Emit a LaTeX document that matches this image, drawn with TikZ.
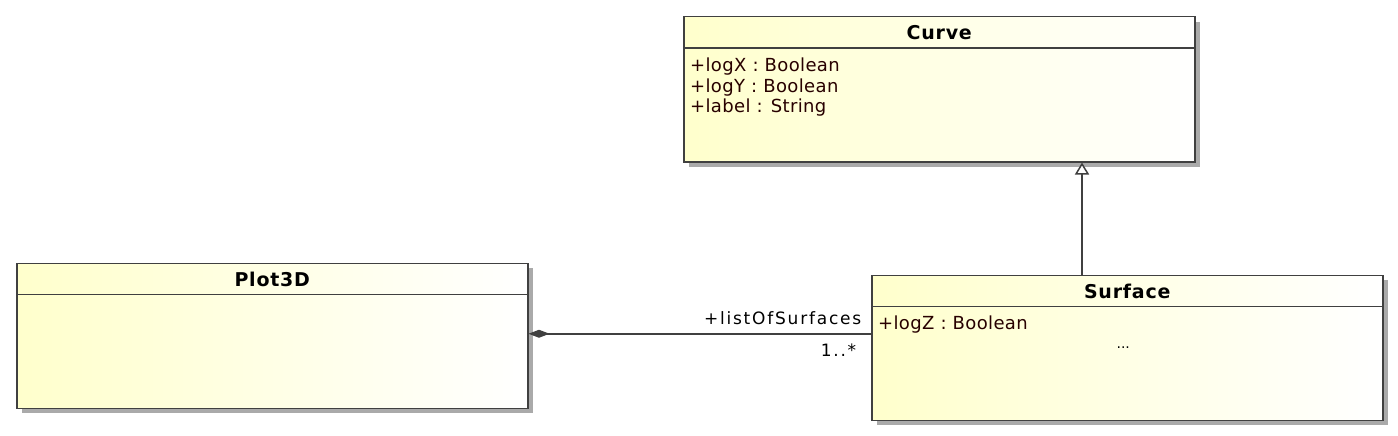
\documentclass[tikz,border=0pt]{standalone}
\usepackage{fontspec}
\setmainfont{DejaVu Sans}
\newfontfamily\attrfont[LetterSpace=2]{DejaVu Sans}
\newfontfamily\namefont[LetterSpace=4]{DejaVu Sans}
\newfontfamily\rolefont[LetterSpace=10.5]{DejaVu Sans}
\usetikzlibrary{positioning,shadows,arrows.meta}
\definecolor{classfill}{RGB}{255,255,204}
\definecolor{classline}{RGB}{64,64,64}
\definecolor{shadowgray}{RGB}{170,170,170}
\definecolor{attrcolor}{RGB}{40,0,0}

\begin{document}
\begin{tikzpicture}[x=1pt, y=-1pt,
    classnode/.style={rectangle, draw=classline, line width=1.5pt, left color=classfill, right color=white, minimum width=511pt, minimum height=145pt, inner sep=0pt, anchor=north west, drop shadow={shadow xshift=5pt, shadow yshift=-5pt, fill=shadowgray, opacity=1}},
    namenode/.style={inner sep=0pt, anchor=base, font=\namefont\bfseries\fontsize{19}{20}\selectfont},
    attrnode/.style={inner sep=0pt, text height=14pt, text depth=4pt, text=attrcolor, font=\attrfont\fontsize{18}{20}\selectfont},
    rolenode/.style={inner sep=0pt, font=\rolefont\fontsize{17}{20}\selectfont},
    umlline/.style={draw=classline, line width=1.5pt}]

        \fill[white] (0,0) rectangle (1398,436);

        % classes
        \node[classnode] (curve) at (683,16) {};
        \node[classnode] (plot) at (16,262.5) {};
        \node[classnode] (surface) at (871,274.5) {};

        \draw[umlline] ([yshift=-32pt]curve.north west) -- ([yshift=-32pt]curve.north east);
        \draw[umlline] ([yshift=-32pt]plot.north west) -- ([yshift=-32pt]plot.north east);
        \draw[umlline] ([yshift=-32pt]surface.north west) -- ([yshift=-32pt]surface.north east);

        \node[namenode] (curvename) at ([yshift=-24pt]curve.north) {Curve};
        \node[namenode] (plotname) at ([yshift=-24pt]plot.north) {Plot3D};
        \node[namenode] (surfacename) at ([yshift=-24pt]surface.north) {Surface};

        % attributes
        \node[attrnode, anchor=base west] (logx) at ([xshift=7pt, yshift=-55.7pt]curve.north west) {+logX : Boolean};
        \node[attrnode] (logy) [below right=2pt and 0pt of logx.south west] {+logY : Boolean};
        \node[attrnode] (label) [below right=2pt and 0pt of logy.south west] {+label : String};
        \node[attrnode, anchor=base west] (logz) at ([xshift=7pt, yshift=-55.2pt]surface.north west) {+logZ : Boolean};
        \node[inner sep=0pt, anchor=base, font=\fontsize{14}{16}\selectfont] (more) at ([xshift=-4pt, yshift=-74pt]surface.north) {...};

        % relations
        \draw[umlline, -{Triangle[length=12pt, width=14pt, fill=white]}] ([xshift=211pt]surface.north west) -- ([xshift=211pt]surface.north west |- curve.south);
        \draw[umlline, {Diamond[length=21pt, width=8pt]}-] ([yshift=2pt]plot.east) -- ([yshift=2pt]plot.east -| surface.west)
            node[rolenode, pos=1, anchor=south east, xshift=-9pt, yshift=8pt] (role) {+listOfSurfaces}
            node[rolenode, pos=1, anchor=north east, xshift=-14pt, yshift=-9.5pt] (mult) {1..*};

\end{tikzpicture}
\end{document}
